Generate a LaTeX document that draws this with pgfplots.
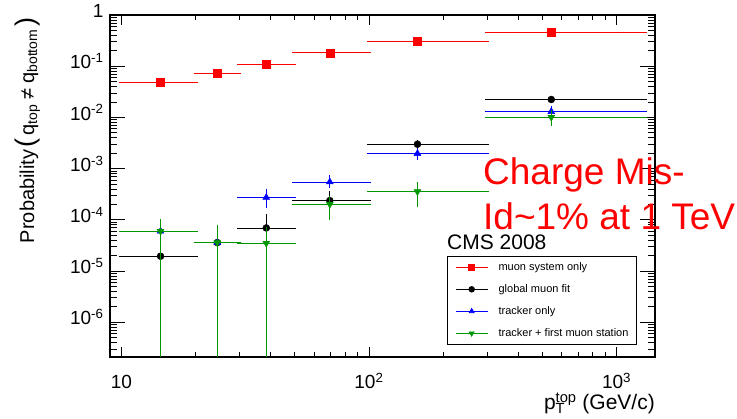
\documentclass[border=0pt]{standalone}
\usepackage{pgfplots}
\pgfplotsset{compat=1.18}
\usepackage{pgfplotstable}
\usepackage{fontspec}
\setmainfont{Liberation Sans}
\definecolor{rootgreen}{RGB}{0,150,0}
\definecolor{rootblue}{RGB}{0,0,255}
\definecolor{rootred}{RGB}{255,0,0}

\pgfplotstableread{
x y xm xp ym yp
14.4 0.0487 4.4 5.6 0 0
24.4 0.074 4.4 5.6 0 0
38.5 0.108 8.5 11.5 0 0
69.5 0.182 19.5 30.5 0 0
157 0.312 57 143 0 0
545 0.455 245 755 0 0
}\redtab
\pgfplotstableread{
x y xm xp ym yp
14.4 1.95e-5 4.4 5.6 1.9499e-5 4.0e-5
24.4 3.6e-5 4.4 5.6 3.5999e-5 3.7e-5
38.5 6.95e-5 8.5 11.5 4.95e-5 4.95e-5
69.5 2.38e-4 19.5 30.5 0.6e-4 0.97e-4
157 3.0e-3 57 143 0.25e-3 0.25e-3
545 0.0224 245 755 0.0015 0.0015
}\blacktab
\pgfplotstableread{
x y xm xp ym yp
14.4 6.0e-5 4.4 5.6 5.9999e-5 3.3e-5
24.4 3.6e-5 4.4 5.6 3.5999e-5 3.7e-5
38.5 2.73e-4 8.5 11.5 0.88e-4 0.94e-4
69.5 5.5e-4 19.5 30.5 0.9e-4 1.4e-4
157 1.97e-3 57 143 0.39e-3 0.32e-3
545 0.013 245 755 0.0025 0.0026
}\bluetab
\pgfplotstableread{
x y xm xp ym yp
14.4 6.0e-5 4.4 5.6 5.9999e-5 3.3e-5
24.4 3.6e-5 4.4 5.6 3.5999e-5 3.7e-5
38.5 3.5e-5 8.5 11.5 3.4999e-5 3.0e-5
69.5 2.02e-4 19.5 30.5 0.93e-4 0.71e-4
157 3.57e-4 57 143 1.64e-4 1.53e-4
545 0.0101 245 755 0.0025 0.0024
}\greentab

\begin{document}
\begin{tikzpicture}
\useasboundingbox (0,0) rectangle (737pt,419pt);
\begin{axis}[
  at={(110pt,62pt)}, anchor=south west,
  width=545pt, height=342pt, scale only axis,
  xmode=log, ymode=log,
  xmin=9, xmax=1430, ymin=2.1e-7, ymax=1,
  xtick={10,100,1000},
  xticklabels={10,10\textsuperscript{2},10\textsuperscript{3}},
  ytick={1e-6,1e-5,1e-4,1e-3,1e-2,1e-1,1},
  yticklabels={10\textsuperscript{-6},10\textsuperscript{-5},10\textsuperscript{-4},10\textsuperscript{-3},10\textsuperscript{-2},10\textsuperscript{-1},1},
  minor xtick={20,30,40,50,60,70,80,90,200,300,400,500,600,700,800,900},
  minor ytick={3e-7,4e-7,5e-7,6e-7,7e-7,8e-7,9e-7,
    2e-6,3e-6,4e-6,5e-6,6e-6,7e-6,8e-6,9e-6,
    2e-5,3e-5,4e-5,5e-5,6e-5,7e-5,8e-5,9e-5,
    2e-4,3e-4,4e-4,5e-4,6e-4,7e-4,8e-4,9e-4,
    2e-3,3e-3,4e-3,5e-3,6e-3,7e-3,8e-3,9e-3,
    2e-2,3e-2,4e-2,5e-2,6e-2,7e-2,8e-2,9e-2,
    2e-1,3e-1,4e-1,5e-1,6e-1,7e-1,8e-1,9e-1},
  axis line style={line width=1.5pt},
  tick style={black, line width=0.8pt},
  xtick style={/pgfplots/major tick length=10pt, /pgfplots/minor tick length=5pt},
  ytick style={/pgfplots/major tick length=15pt, /pgfplots/minor tick length=7pt},
  ticklabel style={font=\fontsize{19}{22}\selectfont},
  xticklabel style={anchor=base, yshift=-32pt},
  yticklabel style={anchor=mid east, xshift=-3pt},
  clip mode=individual,
  legend image code/.code={\draw[#1, sharp plot, mark size=2.8pt, mark repeat=2, mark phase=2, line width=0.8pt] plot coordinates {(0pt,0pt) (16pt,0pt) (32pt,0pt)};},
  legend style={at={(axis description cs:0.6183,0.2953)}, anchor=north west,
    draw=black, line width=0.6pt, inner xsep=8pt, inner ysep=0pt,
    row sep=0pt, column sep=10.5pt,
    font=\fontsize{11}{13}\selectfont,
    nodes={inner xsep=0pt, inner ysep=0pt, minimum height=22pt, anchor=west}},
  legend cell align=left,
]
\addplot[only marks, mark=square*, mark size=4pt, color=rootred,
  error bars/.cd, x dir=both, x explicit, y dir=both, y explicit,
  error bar style={rootred, line width=0.8pt},
  error mark options={rootred, mark size=2pt, line width=0.8pt}]
  table[x=x, y=y, x error minus=xm, x error plus=xp, y error minus=ym, y error plus=yp]{\redtab};
\addlegendentry{\makebox[129pt][l]{muon system only}}
\addplot[only marks, mark=*, mark size=3.5pt, color=black,
  error bars/.cd, x dir=both, x explicit, y dir=both, y explicit,
  error bar style={black, line width=0.8pt},
  error mark options={black, mark size=2pt, line width=0.8pt}]
  table[x=x, y=y, x error minus=xm, x error plus=xp, y error minus=ym, y error plus=yp]{\blacktab};
\addlegendentry{global muon fit}
\addplot[only marks, mark=triangle*, mark size=4pt, color=rootblue,
  error bars/.cd, x dir=both, x explicit, y dir=both, y explicit,
  error bar style={rootblue, line width=0.8pt},
  error mark options={rootblue, mark size=2pt, line width=0.8pt}]
  table[x=x, y=y, x error minus=xm, x error plus=xp, y error minus=ym, y error plus=yp]{\bluetab};
\addlegendentry{tracker only}
\addplot[only marks, mark=triangle*, mark size=4pt, mark options={rotate=180}, color=rootgreen,
  error bars/.cd, x dir=both, x explicit, y dir=both, y explicit,
  error bar style={rootgreen, line width=0.8pt},
  error mark options={rootgreen, mark size=2pt, line width=0.8pt}]
  table[x=x, y=y, x error minus=xm, x error plus=xp, y error minus=ym, y error plus=yp]{\greentab};
\addlegendentry{tracker + first muon station}
\end{axis}
\node[anchor=base west, inner sep=0pt, font=\fontsize{21}{24}\selectfont] at (447pt,169pt) {CMS 2008};
\node[anchor=base west, inner sep=0pt, text=rootred, font=\fontsize{37}{40}\selectfont] at (483pt,234pt) {Charge Mis-};
\node[anchor=base west, inner sep=0pt, text=rootred, font=\fontsize{37}{40}\selectfont] at (483pt,189pt) {Id\textasciitilde 1\% at 1 TeV};
\node[anchor=base east, inner sep=0pt, font=\fontsize{21}{24}\selectfont] at (655pt,9pt) {p\rlap{\textsubscript{T}}\textsuperscript{top} (GeV/c)};
\node[rotate=90, anchor=base east, inner sep=0pt, font=\fontsize{20}{24}\selectfont] at (34pt,402pt)
  {Probability\hspace{2pt}{\fontsize{27}{30}\selectfont(}\hspace{3pt}q\textsubscript{top}\hspace{5pt}≠\hspace{5pt}q\textsubscript{bottom}\hspace{3pt}{\fontsize{27}{30}\selectfont)}};
\end{tikzpicture}
\end{document}
